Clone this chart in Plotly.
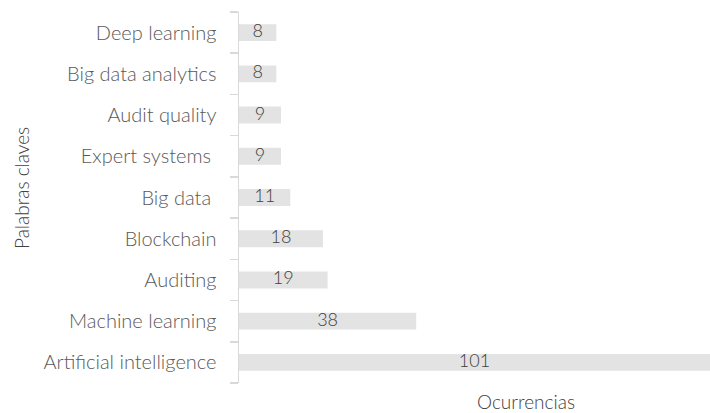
import plotly.graph_objects as go

categories = ["Artificial intelligence", "Machine learning", "Auditing", "Blockchain",
              "Big data ", "Expert systems ", "Audit quality", "Big data analytics", "Deep learning"]
values = [101, 38, 19, 18, 11, 9, 9, 8, 8]

FONT = "Lato, Open Sans, sans-serif"

fig = go.Figure()
fig.add_trace(go.Bar(
    x=values, y=categories, orientation="h",
    marker=dict(color="#e3e3e3", line=dict(width=0)),
    width=0.41, hoverinfo="skip",
))
fig.add_trace(go.Scatter(
    x=[v / 2 for v in values], y=categories, mode="text",
    text=[str(v) for v in values], textposition="middle center",
    textfont=dict(family=FONT, size=18, color="#404040", weight=300),
    hoverinfo="skip",
))

fig.update_layout(
    width=710, height=413,
    margin=dict(l=239, r=0, t=12, b=30, autoexpand=False),
    plot_bgcolor="white", paper_bgcolor="white",
    showlegend=False,
    font=dict(family=FONT, color="#595959", weight=300),
    xaxis=dict(range=[0, 101], visible=False, automargin=False),
    yaxis=dict(
        type="category", categoryorder="array", categoryarray=categories,
        showline=True, linecolor="#d9d9d9", linewidth=1.5,
        ticks="outside", tickson="boundaries", ticklen=8, tickcolor="#d9d9d9", tickwidth=1.5,
        ticklabelstandoff=17, automargin=False,
        tickfont=dict(family=FONT, size=20, color="#595959", weight=300),
        showgrid=False, zeroline=False,
        range=[-0.5, 8.5],
    ),
)
fig.add_annotation(text="Palabras claves", xref="paper", yref="paper", x=(21 - 239) / 471,
                   y=(383 - 188) / 371,
                   textangle=-90, showarrow=False, xanchor="center", yanchor="middle",
                   font=dict(family=FONT, size=19, color="#404040", weight=300))
fig.add_annotation(text="Ocurrencias", xref="paper", yref="paper", x=(526 - 239) / 471, y=-(402 - 383) / 371,
                   showarrow=False, xanchor="center", yanchor="middle",
                   font=dict(family=FONT, size=19, color="#404040", weight=300))

fig.write_html("out.html", config={"displayModeBar": False, "staticPlot": True},
               post_script="document.body.style.margin='0';document.body.style.overflow='hidden';")
